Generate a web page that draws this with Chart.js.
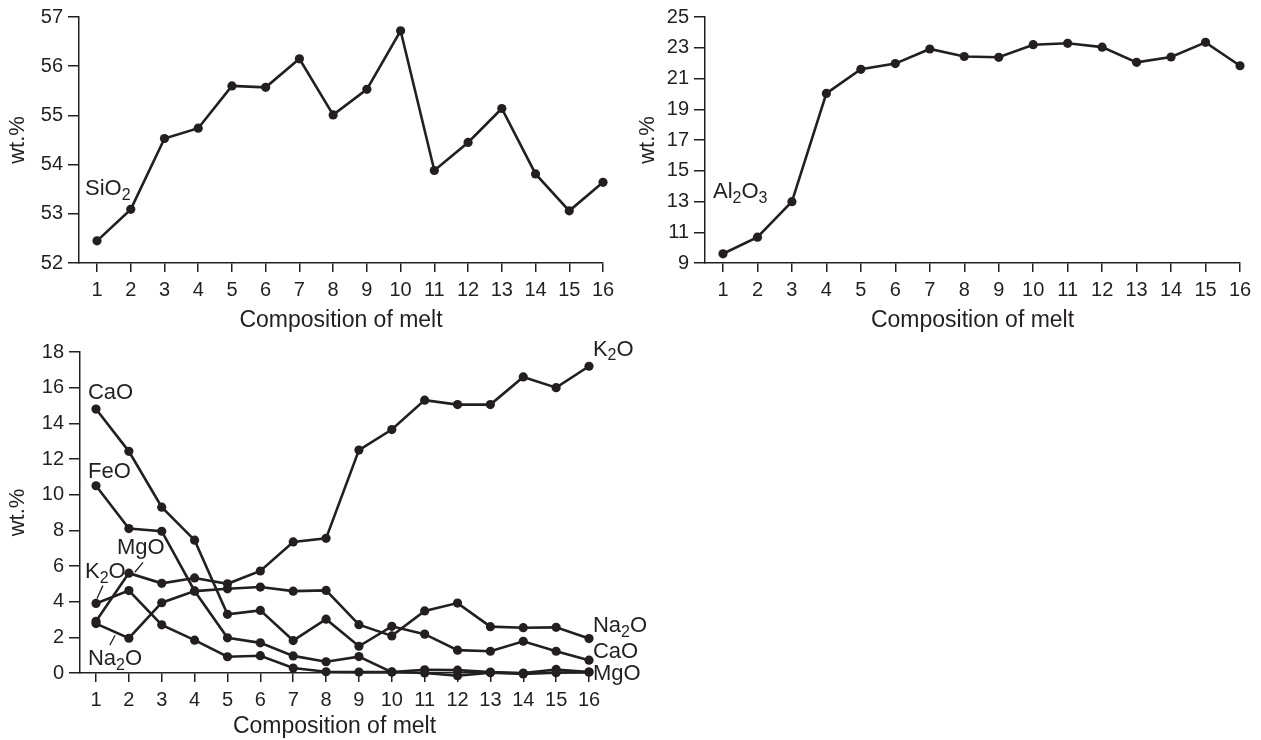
<!DOCTYPE html>
<html>
<head>
<meta charset="utf-8">
<script src="https://cdn.jsdelivr.net/npm/chart.js@4.4.1/dist/chart.umd.min.js"></script>
<style>
  body { margin: 0; background: #fff; }
  .wrap { position: relative; width: 1261px; height: 740px; }
  canvas { position: absolute; }
</style>
</head>
<body>
<div class="wrap">
  <canvas id="chartSi" width="625" height="335" style="left:0;top:0"></canvas>
  <canvas id="chartAl" width="631" height="335" style="left:630px;top:0"></canvas>
  <canvas id="chartOx" width="700" height="405" style="left:0;top:335px"></canvas>
</div>
<script>
// data (wt.% per melt composition)
const melts = [1, 2, 3, 4, 5, 6, 7, 8, 9, 10, 11, 12, 13, 14, 15, 16];

const sio2 = [52.45, 53.09, 54.53, 54.74, 55.6, 55.57, 56.15, 55.01, 55.53, 56.72, 53.88, 54.45, 55.14, 53.81, 53.06, 53.64];
const al2o3 = [9.6, 10.68, 12.99, 20.03, 21.6, 21.97, 22.92, 22.43, 22.38, 23.2, 23.29, 23.04, 22.05, 22.4, 23.35, 21.83];

const k2o = [2.9, 5.6, 5.03, 5.33, 5.0, 5.72, 7.35, 7.55, 12.5, 13.65, 15.3, 15.05, 15.05, 16.6, 16.0, 17.2];
const na2o = [2.77, 1.95, 3.94, 4.59, 4.72, 4.82, 4.59, 4.63, 2.71, 2.08, 3.48, 3.92, 2.6, 2.54, 2.56, 1.93];
const cao = [14.8, 12.43, 9.3, 7.45, 3.29, 3.51, 1.82, 3.02, 1.5, 2.62, 2.18, 1.28, 1.22, 1.78, 1.22, 0.72];
const feo = [10.5, 8.1, 7.95, 4.6, 1.97, 1.69, 0.96, 0.63, 0.92, 0.05, 0.18, 0.16, 0.05, 0.0, 0.2, 0.05];
const mgo = [3.9, 4.62, 2.7, 1.84, 0.91, 0.97, 0.28, 0.07, 0.05, 0.06, 0.0, -0.15, 0.02, -0.05, 0.02, 0.05];

const siTicks = [52, 53, 54, 55, 56, 57];
const alTicks = [9, 11, 13, 15, 17, 19, 21, 23, 25];
const oxTicks = [0, 2, 4, 6, 8, 10, 12, 14, 16, 18];

const INK = "#231f20";
const FONT = "'Liberation Sans', Arial, Helvetica, sans-serif";

// draws formula text with digits as subscripts, e.g. Al2O3
function drawChem(ctx, text, x, y, size) {
  let cx = x;
  for (const ch of text) {
    const sub = ch >= "0" && ch <= "9";
    ctx.font = (sub ? Math.round(size * 0.72) : size) + "px " + FONT;
    ctx.fillText(ch, cx, sub ? y + size * 0.22 : y);
    cx += ctx.measureText(ch).width;
  }
}

const chemLabels = {
  id: "chemLabels",
  afterDatasetsDraw(chart, args, opts) {
    const ctx = chart.ctx;
    const sx = chart.scales.x, sy = chart.scales.y;
    ctx.save();
    ctx.fillStyle = INK;
    ctx.strokeStyle = INK;
    ctx.lineWidth = 1.3;
    ctx.textAlign = "left";
    ctx.textBaseline = "alphabetic";
    (opts.pointers || []).forEach((p) => {
      ctx.beginPath();
      ctx.moveTo(sx.getPixelForValue(p[0]), sy.getPixelForValue(p[1]));
      ctx.lineTo(sx.getPixelForValue(p[2]), sy.getPixelForValue(p[3]));
      ctx.stroke();
    });
    (opts.items || []).forEach((it) => {
      drawChem(ctx, it.text, sx.getPixelForValue(it.x), sy.getPixelForValue(it.y), 22);
    });
    ctx.restore();
  }
};

function makeChart(id, cfg) {
  const datasets = cfg.series.map((vals) => ({
    data: melts.map((m, i) => ({ x: m, y: vals[i] })),
    borderColor: INK,
    backgroundColor: INK,
    borderWidth: 2.6,
    pointRadius: 4.6,
    pointBorderWidth: 0,
    tension: 0,
    clip: false
  }));

  return new Chart(document.getElementById(id), {
    type: "line",
    data: { datasets: datasets },
    plugins: [chemLabels],
    options: {
      responsive: false,
      animation: false,
      events: [],
      layout: { padding: cfg.padding },
      plugins: {
        legend: { display: false },
        tooltip: { enabled: false },
        chemLabels: { items: cfg.notes, pointers: cfg.pointers }
      },
      scales: {
        x: {
          type: "linear",
          min: cfg.xMin,
          max: 16,
          afterBuildTicks: (s) => { s.ticks = melts.map((v) => ({ value: v })); },
          afterFit: (s) => { s.height = cfg.xHeight; },
          grid: { drawOnChartArea: false, drawTicks: true, tickLength: 9, color: INK, lineWidth: 1.5 },
          border: { color: INK, width: 1.5 },
          ticks: { color: INK, font: { family: FONT, size: 20 }, padding: 6, maxRotation: 0, autoSkip: false },
          title: { display: true, text: "Composition of melt", color: INK, font: { family: FONT, size: 23 }, padding: { top: 0, bottom: cfg.titlePad } }
        },
        y: {
          type: "linear",
          min: cfg.yTicks[0],
          max: cfg.yTicks[cfg.yTicks.length - 1],
          afterBuildTicks: (s) => { s.ticks = cfg.yTicks.map((v) => ({ value: v })); },
          afterFit: (s) => { s.width = cfg.yWidth; },
          grid: { drawOnChartArea: false, drawTicks: true, tickLength: 11, color: INK, lineWidth: 1.5 },
          border: { color: INK, width: 1.5 },
          ticks: { color: INK, font: { family: FONT, size: 20 }, padding: 5 },
          title: { display: true, text: "wt.%", color: INK, font: { family: FONT, size: 22 }, padding: { top: 5, bottom: 0 } }
        }
      }
    }
  });
}

makeChart("chartSi", {
  series: [sio2],
  yTicks: siTicks,
  xMin: 0.466,
  yWidth: 79,
  xHeight: 72,
  titlePad: 1,
  padding: { top: 17, right: 22, bottom: 0, left: 0 },
  notes: [{ text: "SiO2", x: 0.644, y: 53.38 }]
});

makeChart("chartAl", {
  series: [al2o3],
  yTicks: alTicks,
  xMin: 0.478,
  yWidth: 75,
  xHeight: 72,
  titlePad: 1,
  padding: { top: 17, right: 21, bottom: 0, left: 0 },
  notes: [{ text: "Al2O3", x: 0.71, y: 13.23 }]
});

makeChart("chartOx", {
  series: [k2o, na2o, cao, feo, mgo],
  yTicks: oxTicks,
  xMin: 0.513,
  yWidth: 80,
  xHeight: 67,
  titlePad: 0,
  padding: { top: 15, right: 111, bottom: 0, left: 0 },
  notes: [
    { text: "CaO", x: 0.756, y: 15.38 },
    { text: "FeO", x: 0.756, y: 10.93 },
    { text: "MgO", x: 1.639, y: 6.69 },
    { text: "K2O", x: 0.665, y: 5.3 },
    { text: "Na2O", x: 0.756, y: 0.45 },
    { text: "K2O", x: 16.12, y: 17.8 },
    { text: "Na2O", x: 16.12, y: 2.3 },
    { text: "CaO", x: 16.12, y: 0.85 },
    { text: "MgO", x: 16.12, y: -0.4 }
  ],
  pointers: [
    [1.21, 4.9, 1.03, 4.18],
    [2.43, 6.2, 2.18, 5.65],
    [1.58, 2.12, 1.42, 1.56]
  ]
});
</script>
</body>
</html>
